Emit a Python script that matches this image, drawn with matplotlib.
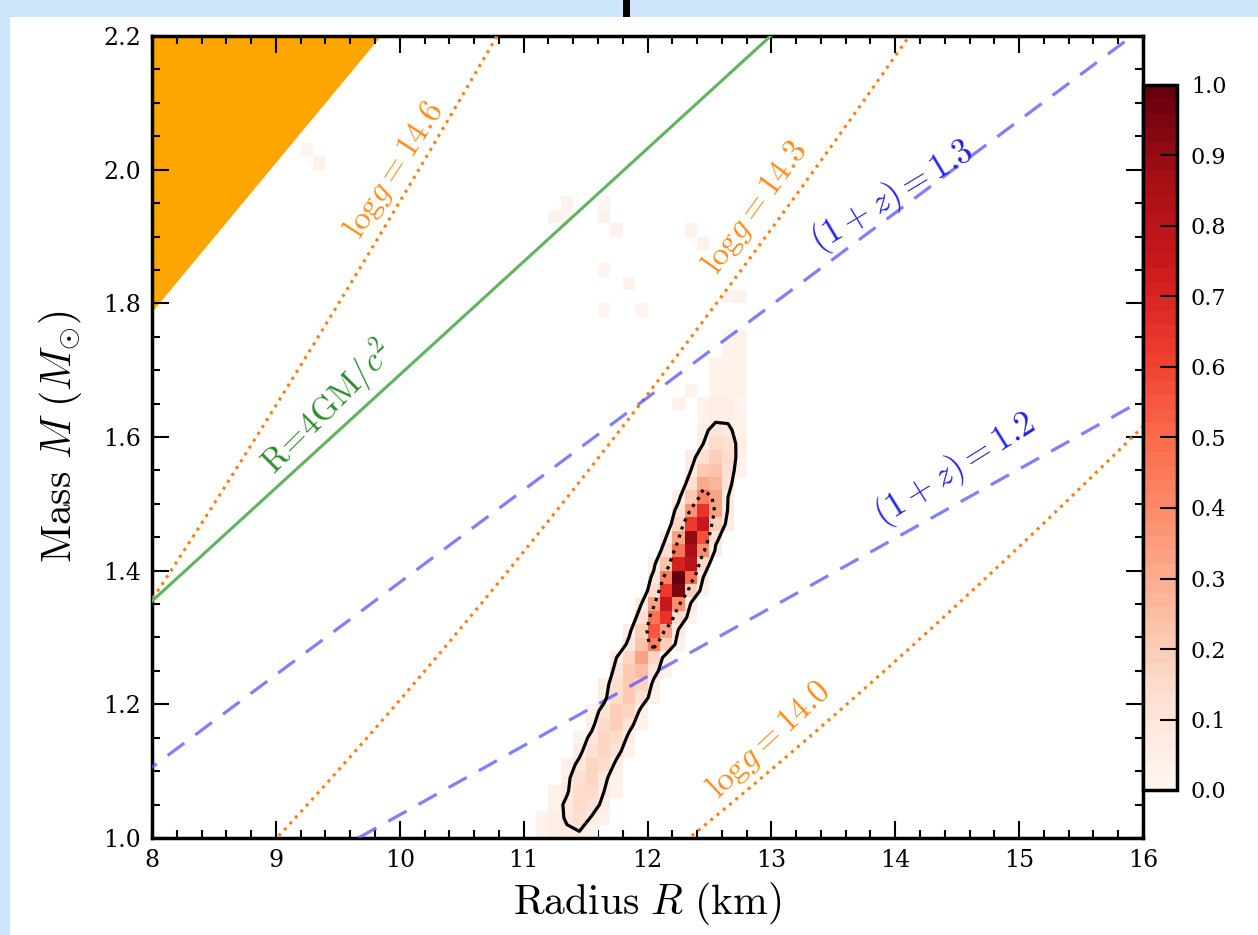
# Mass-radius posterior with logg / redshift reference lines
import numpy as np
import matplotlib.pyplot as plt
from matplotlib.patches import Rectangle

plt.rcParams['font.family'] = 'DejaVu Serif'
plt.rcParams['mathtext.fontset'] = 'cm'

# constants (cgs / km)
GM_SUN = 1.32712e26      # cm^3 s^-2
GM_C2_KM = 1.4766        # G Msun / c^2 in km

# reference curves
logg_levels = [14.0, 14.3, 14.6]
redshift_levels = [1.2, 1.3]
schwarz_factor = 4.0     # R = 4GM/c^2
causal_factor = 3.03     # excluded region R < 3.03 GM/c^2

# 2D posterior histogram: bin width 0.1 km in R, 0.02 Msun in M
# each row: lower M edge, lower R edge of first filled bin, bin values
hist_m = [1.00, 1.02, 1.04, 1.06, 1.08, 1.10, 1.12, 1.14, 1.16, 1.18,
          1.20, 1.22, 1.24, 1.26, 1.28, 1.30, 1.32, 1.34, 1.36, 1.38,
          1.40, 1.42, 1.44, 1.46, 1.48, 1.50, 1.52, 1.54, 1.56, 1.58,
          1.60, 1.62, 1.64, 1.66, 1.68, 1.70, 1.72, 1.74]
hist_r0 = [11.1, 11.1, 11.2, 11.2, 11.3, 11.3, 11.4, 11.4, 11.5, 11.5,
           11.6, 11.6, 11.7, 11.7, 11.8, 11.8, 11.9, 11.9, 12.0, 12.0,
           12.0, 12.1, 12.1, 12.2, 12.2, 12.2, 12.3, 12.3, 12.3, 12.4,
           12.4, 12.4, 12.4, 12.5, 12.5, 12.5, 12.6, 12.6]
hist_vals = [
    [0.02, 0.04, 0.06, 0.07, 0.03],
    [0.02, 0.04, 0.08, 0.13, 0.06, 0.02],
    [0.03, 0.09, 0.15, 0.12, 0.04],
    [0.02, 0.06, 0.14, 0.15, 0.07, 0.02],
    [0.05, 0.13, 0.16, 0.09, 0.02],
    [0.03, 0.09, 0.16, 0.14, 0.05],
    [0.05, 0.13, 0.17, 0.10, 0.02],
    [0.03, 0.09, 0.17, 0.15, 0.05],
    [0.05, 0.14, 0.18, 0.10, 0.02],
    [0.03, 0.10, 0.18, 0.16, 0.05],
    [0.05, 0.15, 0.20, 0.12, 0.03],
    [0.04, 0.12, 0.21, 0.17, 0.05],
    [0.10, 0.20, 0.25, 0.10, 0.02],
    [0.07, 0.17, 0.32, 0.17, 0.03],
    [0.09, 0.22, 0.42, 0.18, 0.03],
    [0.05, 0.18, 0.55, 0.32, 0.06],
    [0.12, 0.47, 0.65, 0.15, 0.03],
    [0.07, 0.32, 0.75, 0.38, 0.06],
    [0.14, 0.62, 0.95, 0.18, 0.03],
    [0.09, 0.42, 1.00, 0.48, 0.07],
    [0.05, 0.22, 0.70, 0.80, 0.14],
    [0.12, 0.47, 0.85, 0.38, 0.05],
    [0.07, 0.32, 0.90, 0.57, 0.10],
    [0.17, 0.62, 0.75, 0.18, 0.04],
    [0.10, 0.37, 0.65, 0.32, 0.06],
    [0.05, 0.20, 0.42, 0.32, 0.07],
    [0.12, 0.30, 0.27, 0.10],
    [0.07, 0.20, 0.22, 0.12, 0.02],
    [0.04, 0.12, 0.18, 0.14, 0.03],
    [0.07, 0.14, 0.12, 0.04],
    [0.05, 0.10, 0.09, 0.03],
    [0.02, 0.05, 0.05, 0.02],
    [0.02, 0.04, 0.04, 0.02],
    [0.03, 0.03, 0.02],
    [0.02, 0.03, 0.02],
    [0.02, 0.02, 0.02],
    [0.02, 0.02],
    [0.01, 0.02],
]
# isolated faint bins: (R edge, M edge, value)
stray_r = [9.2, 9.3, 11.2, 11.3, 11.3, 11.6, 11.6, 11.7, 11.6, 11.8,
           11.6, 11.9, 12.3, 12.4, 12.6, 12.7, 12.2, 12.3, 12.7, 12.7]
stray_m = [2.02, 2.00, 1.92, 1.92, 1.94, 1.92, 1.94, 1.90, 1.84, 1.82,
           1.78, 1.78, 1.90, 1.88, 1.80, 1.80, 1.64, 1.66, 1.66, 1.64]
stray_v = [0.015, 0.02, 0.02, 0.015, 0.02, 0.02, 0.015, 0.02, 0.015, 0.02,
           0.01, 0.015, 0.02, 0.02, 0.015, 0.02, 0.02, 0.02, 0.02, 0.015]

levels_outer = [0.07]
levels_inner = [0.35]


def build_grid():
    r_edges = np.round(np.arange(8.0, 16.0001, 0.1), 2)
    m_edges = np.round(np.arange(1.0, 2.2001, 0.02), 2)
    grid = np.zeros((len(m_edges) - 1, len(r_edges) - 1))
    for m, r0, vals in zip(hist_m, hist_r0, hist_vals):
        i = int(round((m - 1.0) / 0.02))
        j = int(round((r0 - 8.0) / 0.1))
        grid[i, j:j + len(vals)] = vals
    for r, m, v in zip(stray_r, stray_m, stray_v):
        grid[int(round((m - 1.0) / 0.02)), int(round((r - 8.0) / 0.1))] = v
    return r_edges, m_edges, grid


def main():
    fig = plt.figure(figsize=(12.58, 9.35), dpi=100)
    fig.patch.set_facecolor('#cde5fb')
    fig.add_artist(Rectangle((10 / 1258, 0), 1, 918 / 935, transform=fig.transFigure,
                             facecolor='white', edgecolor='none', zorder=-5))
    fig.add_artist(Rectangle((623 / 1258, 918 / 935), 7 / 1258, 17 / 935,
                             transform=fig.transFigure, facecolor='black',
                             edgecolor='none', zorder=-5))

    ax = fig.add_axes([152 / 1258, 97 / 935, 991 / 1258, 802 / 935])
    cax = fig.add_axes([1143 / 1258, 145 / 935, 34 / 1258, 705 / 935])
    ax.patch.set_alpha(0)

    # excluded region
    m_line = np.linspace(1.0, 2.2, 200)
    r_causal = causal_factor * GM_C2_KM * m_line
    ax.fill_betweenx(m_line, 8.0, np.maximum(r_causal, 8.0), color='#ffa500', lw=0, zorder=1)

    # histogram
    r_edges, m_edges, grid = build_grid()
    cmap = plt.get_cmap('Reds', 50)
    mesh = ax.pcolormesh(r_edges, m_edges, np.ma.masked_where(grid <= 0, grid),
                         cmap=cmap, vmin=0, vmax=1, zorder=2)
    r_c = 0.5 * (r_edges[1:] + r_edges[:-1])
    m_c = 0.5 * (m_edges[1:] + m_edges[:-1])
    ax.contour(r_c, m_c, grid, levels=levels_outer, colors='k', linewidths=2.3, zorder=4)
    ax.contour(r_c, m_c, grid, levels=levels_inner, colors='k', linewidths=2.3,
               linestyles=':', zorder=4)

    # surface gravity contours
    rr, mm = np.meshgrid(np.linspace(7.9, 16.1, 500), np.linspace(0.95, 2.25, 400))
    comp = 2 * GM_C2_KM * mm / rr
    logg = np.log10(GM_SUN * mm / (rr * 1e5) ** 2 / np.sqrt(np.clip(1 - comp, 1e-6, None)))
    ax.contour(rr, mm, logg, levels=logg_levels, colors='#ff7f0e', linewidths=2.2,
               linestyles=':', zorder=3)

    # redshift lines
    for zp in redshift_levels:
        r_z = 2 * GM_C2_KM * m_line / (1 - zp ** -2)
        ax.plot(r_z, m_line, color='#5555ff', alpha=0.75, lw=2.3, dashes=(6.5, 4.3), zorder=3)

    # R = 4GM/c^2
    ax.plot(schwarz_factor * GM_C2_KM * m_line, m_line, color='#5fb45f', lw=2.2, zorder=3)

    # labels
    orange = '#ff8c1a'
    ax.text(9.96, 2.0, r'$\mathrm{log}g = 14.6$', color=orange, fontsize=24, rotation=57,
            ha='center', va='center')
    ax.text(12.87, 1.943, r'$\mathrm{log}g = 14.3$', color=orange, fontsize=24, rotation=54,
            ha='center', va='center')
    ax.text(12.98, 1.147, r'$\mathrm{log}g = 14.0$', color=orange, fontsize=24, rotation=43,
            ha='center', va='center')
    ax.text(13.98, 1.96, r'$(1+z) = 1.3$', color='#2222ee', fontsize=25, rotation=31,
            ha='center', va='center')
    ax.text(14.48, 1.551, r'$(1+z) = 1.2$', color='#2222ee', fontsize=25, rotation=32,
            ha='center', va='center')
    ax.text(9.42, 1.643, r'$\mathrm{R\!=\!4GM}/c^2$', color='#2e8b2e', fontsize=24,
            rotation=45, ha='center', va='center')

    ax.set_xlim(8, 16)
    ax.set_ylim(1.0, 2.2)
    ax.set_xticks(np.arange(8, 17, 1))
    ax.set_xticks(np.arange(8, 16.01, 0.2), minor=True)
    ax.set_yticks(np.arange(1.0, 2.21, 0.2))
    ax.set_yticks(np.arange(1.0, 2.201, 0.05), minor=True)
    ax.set_yticklabels(['%.1f' % v for v in np.arange(1.0, 2.21, 0.2)])
    ax.tick_params(which='both', direction='in', top=True, right=True, width=1.5)
    ax.tick_params(which='major', length=12, labelsize=17, pad=8)
    ax.tick_params(which='minor', length=6)
    for sp in ax.spines.values():
        sp.set_linewidth(2.5)
    ax.set_xlabel(r'$\mathrm{Radius}\ R\ \mathrm{(km)}$', fontsize=30, labelpad=6)
    ax.set_ylabel(r'$\mathrm{Mass}\ M\ (M_{\odot})$', fontsize=30, labelpad=14)

    cb = fig.colorbar(mesh, cax=cax, ticks=np.arange(0, 1.01, 0.1))
    cb.ax.set_yticklabels(['%.1f' % v for v in np.arange(0, 1.01, 0.1)])
    cb.ax.tick_params(direction='in', length=12, width=1.5, labelsize=16, pad=10)
    cb.outline.set_linewidth(2.5)

    fig.savefig('out.png', dpi=100, facecolor=fig.get_facecolor())


if __name__ == '__main__':
    main()
